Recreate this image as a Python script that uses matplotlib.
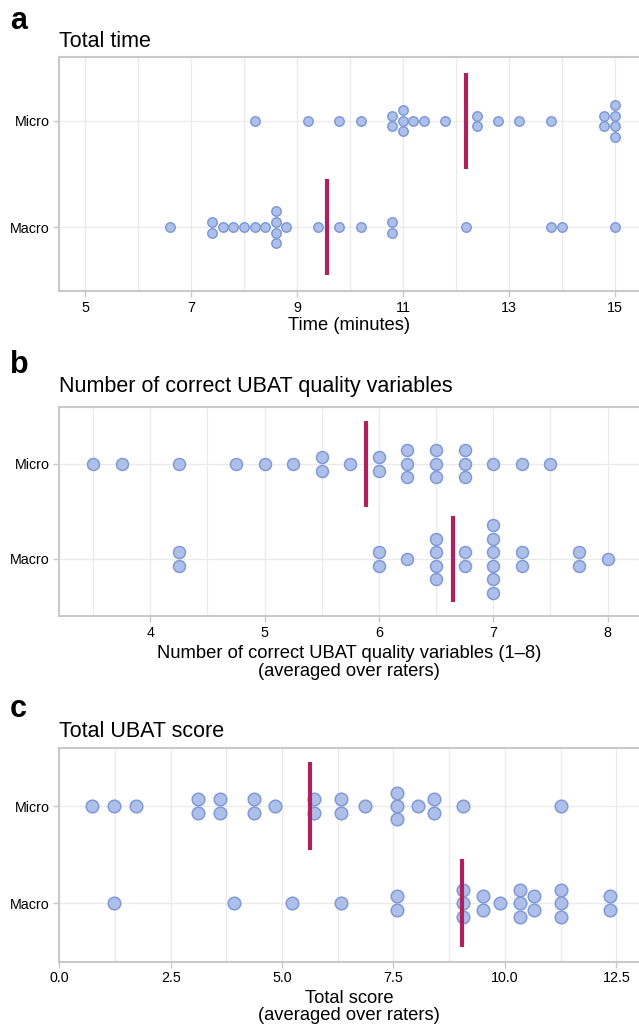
import numpy as np
import matplotlib
matplotlib.use('Agg')
import matplotlib.pyplot as plt
from matplotlib.ticker import MultipleLocator, FormatStrFormatter

plt.rcParams['font.family'] = ['Liberation Sans', 'DejaVu Sans']

groups = ['Micro', 'Macro']

# a: total time (minutes)
time_micro = [8.2, 9.2, 9.8, 10.2, 10.8, 10.8, 11.0, 11.0, 11.0, 11.2, 11.4, 11.8,
              12.4, 12.4, 12.8, 13.2, 13.8, 14.8, 14.8, 15.0, 15.0, 15.0, 15.0]
time_macro = [6.6, 7.4, 7.4, 7.6, 7.8, 8.0, 8.2, 8.4, 8.6, 8.6, 8.6, 8.6, 8.8,
              9.4, 9.8, 10.2, 10.8, 10.8, 12.2, 13.8, 14.0, 15.0]

# b: number of correct UBAT quality variables
qual_micro = [3.5, 3.75, 4.25, 4.75, 5.0, 5.25, 5.5, 5.5, 5.75, 6.0, 6.0,
              6.25, 6.25, 6.25, 6.5, 6.5, 6.5, 6.75, 6.75, 6.75, 7.0, 7.25, 7.5]
qual_macro = [4.25, 4.25, 6.0, 6.0, 6.25, 6.5, 6.5, 6.5, 6.5, 6.75, 6.75,
              7.0, 7.0, 7.0, 7.0, 7.0, 7.0, 7.25, 7.25, 7.75, 7.75, 8.0]

# c: total UBAT score
score_micro = [0.73, 1.23, 1.73, 3.11, 3.11, 3.61, 3.61, 4.36, 4.36, 4.85, 5.72, 5.72,
               6.33, 6.33, 6.85, 7.58, 7.58, 7.58, 8.04, 8.41, 8.41, 9.07, 11.26]
score_macro = [1.23, 3.91, 5.22, 6.33, 7.58, 7.58, 9.07, 9.07, 9.07, 9.52, 9.52, 9.89,
               10.34, 10.34, 10.34, 10.66, 10.66, 11.26, 11.26, 11.26, 12.35, 12.35]

time_ticks = [5, 7, 9, 11, 13, 15]

FILL = '#aec0e9'
EDGE = '#7f9ad8'
MEAN_COLOR = '#ad2160'
GRID = '#ebebeb'
SPINE = '#c9c9c9'

W, H = 639, 1028
LEFT = 59.3


def stack_offsets(values, step):
    # centred stacks of identical values
    values = np.asarray(values, dtype=float)
    offsets = np.zeros(len(values))
    for v in np.unique(values):
        idx = np.where(values == v)[0]
        offsets[idx] = (np.arange(len(idx)) - (len(idx) - 1) / 2) * step
    return offsets


def draw_panel(top_px, bottom_px, micro, macro, xlim, major, minor, fmt, step, size,
               letter, title, letter_y, title_y, xlabel, xlabel_y):
    ax = fig.add_axes([LEFT / W, 1 - bottom_px / H, (W - LEFT) / W, (bottom_px - top_px) / H])
    for row, vals in [(1, micro), (0, macro)]:
        y = row + stack_offsets(vals, step)
        ax.scatter(vals, y, s=size, color=FILL, edgecolor=EDGE, linewidth=1.1, zorder=3)
        m = np.mean(vals)
        ax.plot([m, m], [row - 0.45, row + 0.45], color=MEAN_COLOR, lw=3,
                solid_capstyle='butt', zorder=4)
    ax.set_xlim(*xlim)
    ax.set_ylim(-0.6, 1.6)
    ax.set_yticks([1, 0])
    ax.set_yticklabels(groups)
    ax.xaxis.set_major_locator(MultipleLocator(major))
    ax.xaxis.set_minor_locator(MultipleLocator(minor))
    ax.xaxis.set_major_formatter(FormatStrFormatter(fmt))
    ax.grid(which='both', color=GRID, lw=1, zorder=0)
    ax.set_axisbelow(True)
    for side in ['left', 'top', 'bottom']:
        ax.spines[side].set_color(SPINE)
        ax.spines[side].set_linewidth(1.5)
    ax.spines['right'].set_visible(False)
    ax.tick_params(axis='both', which='major', color=SPINE, length=4, width=1,
                   labelsize=10.3, pad=3)
    ax.tick_params(axis='x', which='minor', length=0)
    fig.text(10 / W, 1 - letter_y / H, letter, fontsize=22, fontweight='bold', va='baseline')
    fig.text(LEFT / W, 1 - title_y / H, title, fontsize=15.5, va='baseline')
    fig.text((LEFT + W) / 2 / W, 1 - xlabel_y / H, xlabel, fontsize=13.2,
             ha='center', va='center', linespacing=1.02)
    return ax


fig = plt.figure(figsize=(W / 100, H / 100), dpi=100)

ax_a = draw_panel(57, 291, time_micro, time_macro, (4.51, 15.46), 2, 1, '%d', 0.1, 46,
                  'a', 'Total time', 29.3, 46.7, 'Time (minutes)', 326)
ax_a.set_xticks(time_ticks)
draw_panel(406.7, 616, qual_micro, qual_macro, (3.206, 8.274), 1, 0.5, '%d', 0.142, 74,
           'b', 'Number of correct UBAT quality variables', 373, 392.3,
           'Number of correct UBAT quality variables (1–8)\n(averaged over raters)', 662.5)
draw_panel(747.7, 961.5, score_micro, score_macro, (0, 13.01), 2.5, 1.25, '%.1f', 0.138, 82,
           'c', 'Total UBAT score', 717, 736.7,
           'Total score\n(averaged over raters)', 1007)

fig.savefig('out.png', dpi=100)
